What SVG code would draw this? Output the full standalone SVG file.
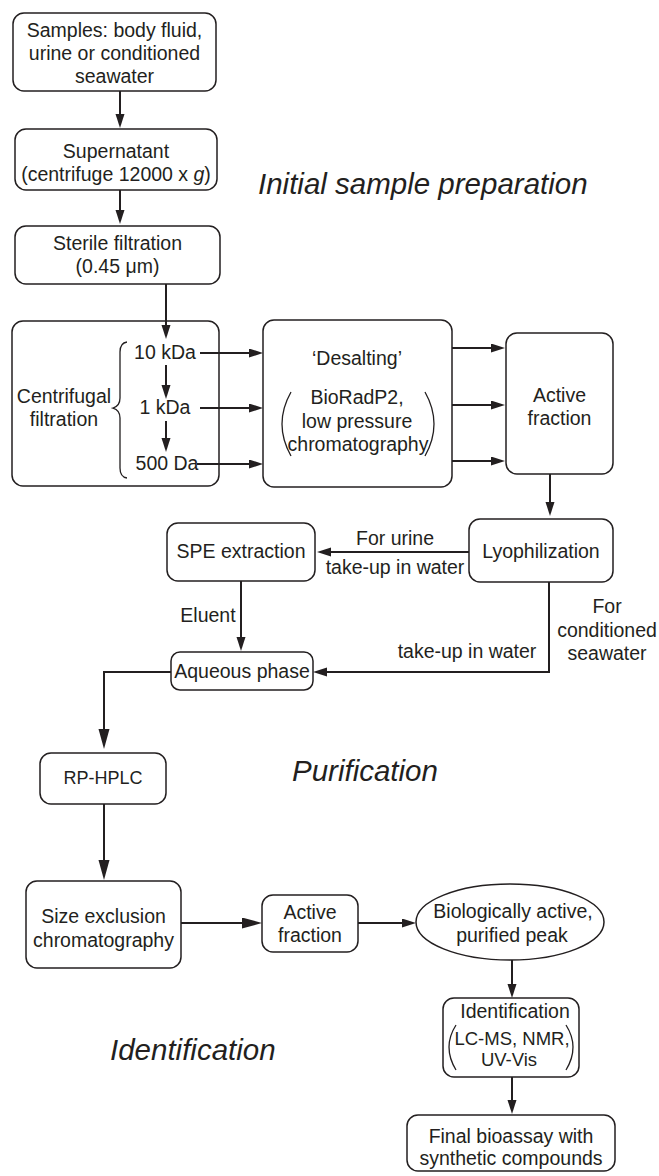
<svg xmlns="http://www.w3.org/2000/svg" width="659" height="1176" viewBox="0 0 659 1176">
<defs>
<style>
.box{fill:#fff;stroke:#231f20;stroke-width:1.5}
.t{font-family:"Liberation Sans",Arial,sans-serif;font-size:19.5px;fill:#231f20;text-anchor:middle}
.lbl{font-family:"Liberation Sans",Arial,sans-serif;font-size:29.5px;font-style:italic;fill:#231f20}
.ar{fill:none;stroke:#231f20;stroke-width:2;marker-end:url(#ah)}
.arL{fill:none;stroke:#231f20;stroke-width:2;marker-end:url(#ahL)}
.br{fill:none;stroke:#231f20;stroke-width:1.3}
</style>
<marker id="ah" markerUnits="userSpaceOnUse" markerWidth="14" markerHeight="10" refX="10" refY="4.5" orient="auto">
<path d="M0,0 L14,4.5 L0,9 z" fill="#231f20"/>
</marker>
<marker id="ahL" markerUnits="userSpaceOnUse" markerWidth="20" markerHeight="12" refX="14" refY="5.5" orient="auto">
<path d="M0,0 L20,5.5 L0,11 z" fill="#231f20"/>
</marker>
</defs>
<rect width="659" height="1176" fill="#fff"/>

<g id="samples">
<rect class="box" x="13" y="13" width="203" height="78" rx="11"/>
<text class="t" x="114.5" y="37">Samples: body fluid,</text>
<text class="t" x="114.5" y="60">urine or conditioned</text>
<text class="t" x="114.5" y="83">seawater</text>
</g>

<g id="supernatant">
<rect class="box" x="15" y="129" width="202" height="61" rx="11"/>
<text class="t" x="116" y="158">Supernatant</text>
<text class="t" x="116" y="181">(centrifuge 12000 x <tspan font-style="italic">g</tspan>)</text>
</g>

<g id="sterile">
<rect class="box" x="15" y="226" width="205" height="58" rx="11"/>
<text class="t" x="117.5" y="250">Sterile filtration</text>
<text class="t" x="117.5" y="273">(0.45 μm)</text>
</g>

<g id="centrifugal">
<rect class="box" x="12" y="321" width="207" height="165" rx="11"/>
<text class="t" x="64" y="403">Centrifugal</text>
<text class="t" x="64" y="426">filtration</text>
<path class="br" d="M127,342 Q120,343 120,352 V398 Q120,406 113,408 Q120,410 120,418 V468 Q120,477 127,478"/>
<text class="t" x="165" y="359">10 kDa</text>
<text class="t" x="165" y="414">1 kDa</text>
<text class="t" x="167" y="470">500 Da</text>
</g>

<g id="desalting">
<rect class="box" x="263" y="320" width="189" height="167" rx="11"/>
<text class="t" x="357" y="365">‘Desalting’</text>
<path class="br" d="M291,392 Q273,424 291,456"/>
<path class="br" d="M425,392 Q443,424 425,456"/>
<text class="t" x="357" y="404">BioRadP2,</text>
<text class="t" x="357" y="428">low pressure</text>
<text class="t" x="358" y="451">chromatography</text>
</g>

<g id="active1">
<rect class="box" x="506" y="333" width="107" height="141" rx="11"/>
<text class="t" x="559.5" y="402">Active</text>
<text class="t" x="559.5" y="425">fraction</text>
</g>

<g id="lyophilization">
<rect class="box" x="469" y="519" width="144" height="63" rx="11"/>
<text class="t" x="541" y="558">Lyophilization</text>
</g>

<g id="spe">
<rect class="box" x="167" y="523" width="148" height="58" rx="11"/>
<text class="t" x="241" y="558">SPE extraction</text>
</g>

<g id="aqueous">
<rect class="box" x="171" y="652" width="142" height="38" rx="9"/>
<text class="t" x="242" y="678">Aqueous phase</text>
</g>

<g id="rphplc">
<rect class="box" x="40" y="753" width="126" height="51" rx="11"/>
<text class="t" x="103" y="784" style="font-size:18px">RP-HPLC</text>
</g>

<g id="sizeexclusion">
<rect class="box" x="26" y="881" width="155" height="87" rx="11"/>
<text class="t" x="103.5" y="923">Size exclusion</text>
<text class="t" x="103.5" y="947">chromatography</text>
</g>

<g id="active2">
<rect class="box" x="262" y="895" width="96" height="57" rx="11"/>
<text class="t" x="310" y="919">Active</text>
<text class="t" x="310" y="942">fraction</text>
</g>

<g id="peak">
<ellipse class="box" cx="510" cy="922" rx="94" ry="38"/>
<text class="t" x="513" y="918">Biologically active,</text>
<text class="t" x="512" y="942">purified peak</text>
</g>

<g id="identification">
<rect class="box" x="443" y="998" width="136" height="79" rx="11"/>
<text class="t" x="515" y="1018">Identification</text>
<path class="br" d="M456,1025 Q442,1047 456,1070"/>
<path class="br" d="M566,1025 Q580,1047 566,1070"/>
<text class="t" x="512" y="1045" style="font-size:18.5px">LC-MS, NMR,</text>
<text class="t" x="509" y="1066" style="font-size:18.5px">UV-Vis</text>
</g>

<g id="final">
<rect class="box" x="407" y="1115" width="208" height="56" rx="11"/>
<text class="t" x="511" y="1143">Final bioassay with</text>
<text class="t" x="511" y="1165">synthetic compounds</text>
</g>

<g id="connectors">
<path class="ar" d="M120,91 V124"/>
<path class="ar" d="M120,190 V220"/>
<path class="ar" d="M166,284 V335"/>
<path class="ar" d="M166,365 V395"/>
<path class="ar" d="M166,421 V448"/>
<path class="ar" d="M200,353 H259"/>
<path class="ar" d="M200,408 H259"/>
<path class="ar" d="M197,464 H259"/>
<path class="ar" d="M452,348 H501"/>
<path class="ar" d="M452,405 H501"/>
<path class="ar" d="M452,461 H501"/>
<path class="ar" d="M550,474 V512"/>
<path class="ar" d="M469,552 H321"/>
<path class="ar" d="M241,581 V647"/>
<path class="ar" d="M549,582 V672 H317"/>
<path class="arL" d="M171,672 H104 V743"/>
<path class="arL" d="M104,804 V874"/>
<path class="arL" d="M181,923 H256"/>
<path class="ar" d="M358,923 H412"/>
<path class="ar" d="M512,960 V994"/>
<path class="ar" d="M512,1077 V1110"/>
<text class="t" x="395" y="545">For urine</text>
<text class="t" x="395" y="574">take-up in water</text>
<text class="t" x="208" y="622">Eluent</text>
<text class="t" x="467" y="658">take-up in water</text>
<text class="t" x="607" y="613">For</text>
<text class="t" x="607" y="637">conditioned</text>
<text class="t" x="607" y="660">seawater</text>
</g>

<g id="section-labels">
<text class="lbl" x="258" y="194">Initial sample preparation</text>
<text class="lbl" x="292" y="781">Purification</text>
<text class="lbl" x="110" y="1060">Identification</text>
</g>
</svg>
